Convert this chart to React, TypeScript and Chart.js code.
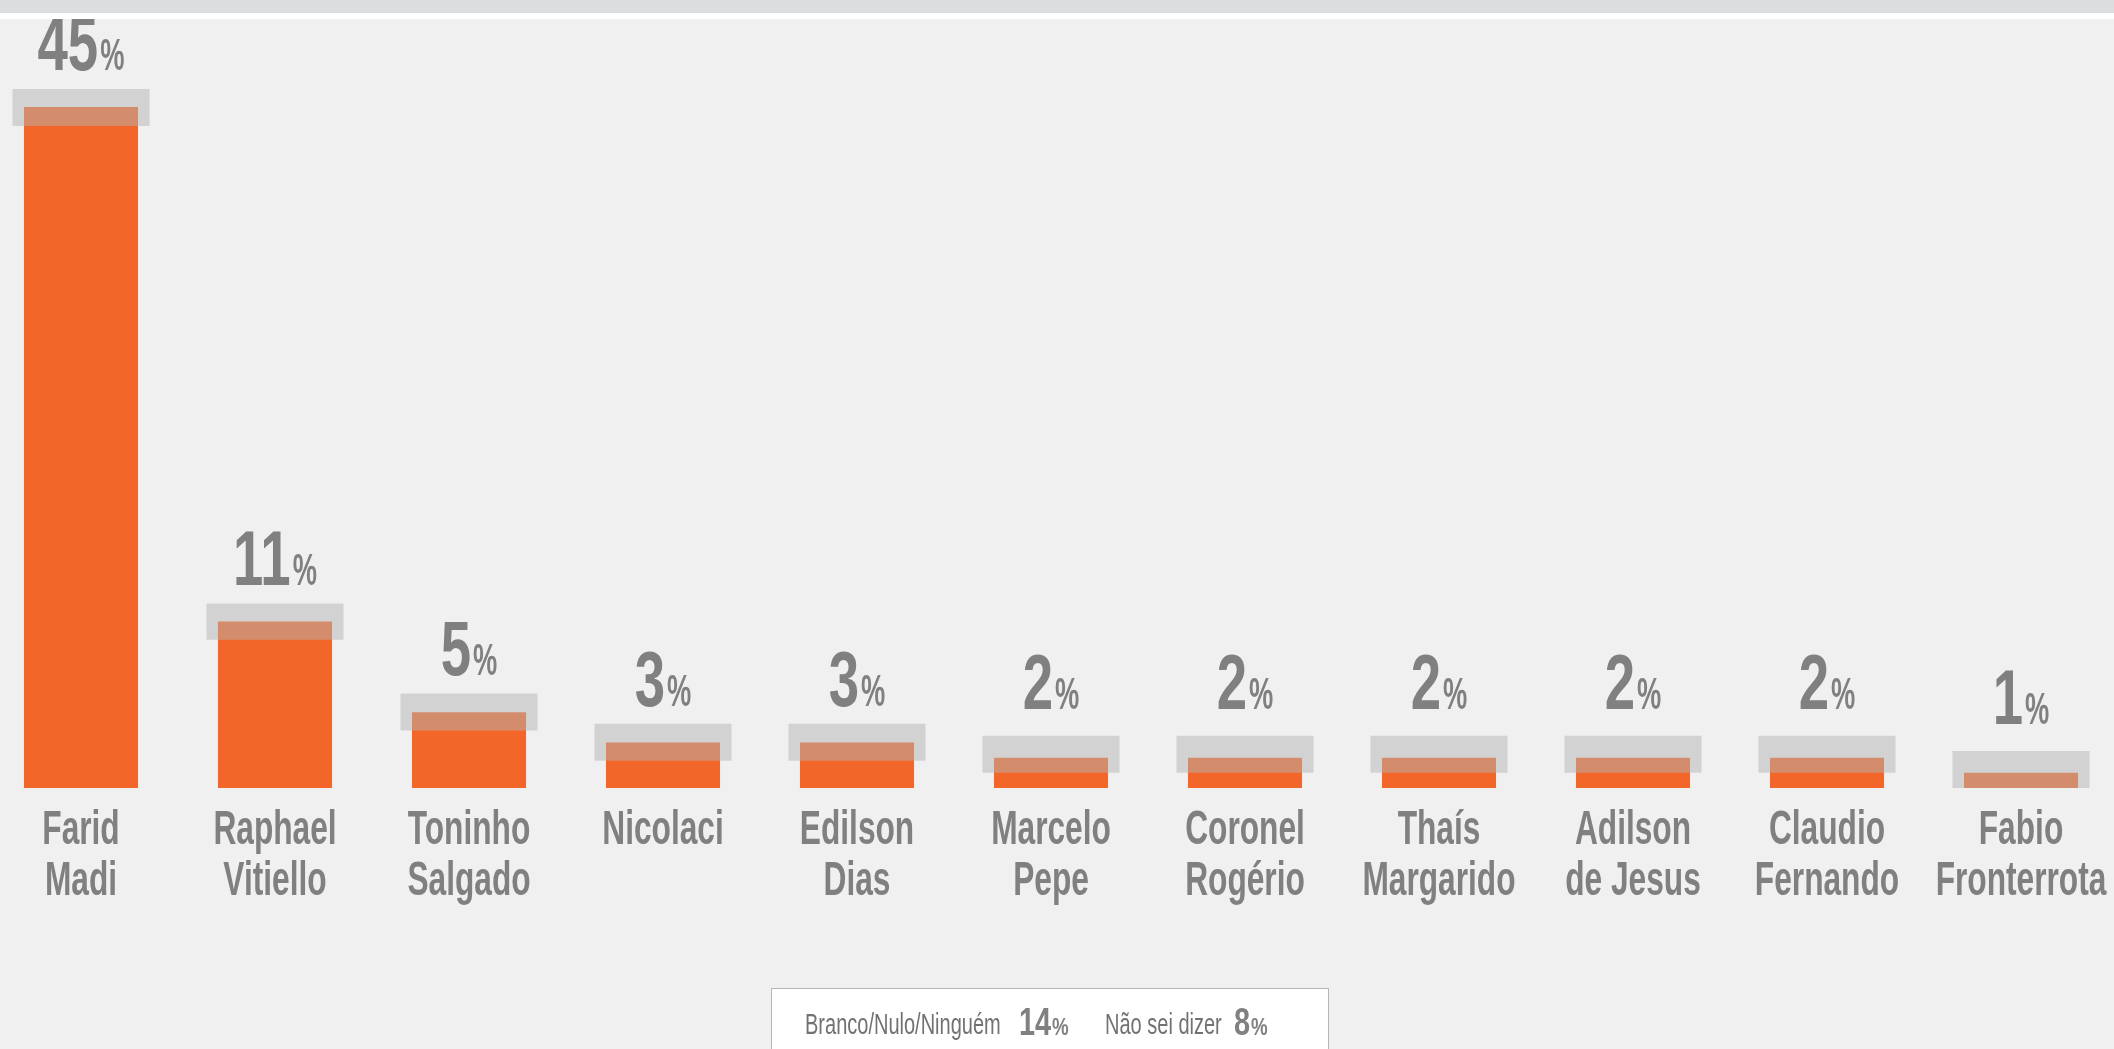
import React, { useEffect, useRef } from "react";
import { Chart, registerables } from "chart.js";

Chart.register(...registerables);

const categories: string[][] = [
  ["Farid", "Madi"],
  ["Raphael", "Vitiello"],
  ["Toninho", "Salgado"],
  ["Nicolaci"],
  ["Edilson", "Dias"],
  ["Marcelo", "Pepe"],
  ["Coronel", "Rogério"],
  ["Thaís", "Margarido"],
  ["Adilson", "de Jesus"],
  ["Claudio", "Fernando"],
  ["Fabio", "Fronterrota"],
];
const values: number[] = [45, 11, 5, 3, 3, 2, 2, 2, 2, 2, 1];
const boxLow: number[] = [43.75, 9.8, 3.8, 1.8, 1.8, 1.0, 1.0, 1.0, 1.0, 1.0, 0];
const boxHigh: number[] = [46.2, 12.2, 6.25, 4.25, 4.25, 3.45, 3.45, 3.45, 3.45, 3.45, 2.45];
const otherLabels: string[] = ["Branco/Nulo/Ninguém", "Não sei dizer"];
const otherValues: number[] = [14, 8];

const FONT = '"Liberation Sans", Arial, sans-serif';
const GRAY = "#808080";
const X_OFF = 16;
const CANVAS_W = 2134;
const CANVAS_H = 1049;

function drawScaled(
  ctx: CanvasRenderingContext2D,
  text: string,
  x: number,
  y: number,
  font: string,
  sx: number,
  align: CanvasTextAlign,
  color: string
) {
  ctx.save();
  ctx.font = font;
  ctx.fillStyle = color;
  ctx.textAlign = align;
  ctx.textBaseline = "alphabetic";
  ctx.translate(x, y);
  ctx.scale(sx, 1);
  ctx.fillText(text, 0, 0);
  ctx.restore();
}

function measureScaled(ctx: CanvasRenderingContext2D, text: string, font: string, sx: number) {
  ctx.save();
  ctx.font = font;
  const w = ctx.measureText(text).width * sx;
  ctx.restore();
  return w;
}

function drawPercent(
  ctx: CanvasRenderingContext2D,
  num: string,
  cx: number | null,
  left: number | null,
  baseline: number,
  bigFont: string,
  bigSx: number,
  smallFont: string,
  smallSx: number,
  gap: number,
  color: string
) {
  const w1 = measureScaled(ctx, num, bigFont, bigSx);
  const w2 = measureScaled(ctx, "%", smallFont, smallSx);
  const total = w1 + gap + w2;
  const x0 = left !== null ? left : (cx as number) - total / 2;
  drawScaled(ctx, num, x0, baseline, bigFont, bigSx, "left", color);
  drawScaled(ctx, "%", x0 + w1 + gap, baseline, smallFont, smallSx, "left", color);
}

const labelsPlugin = {
  id: "customLabels",
  afterDatasetsDraw(chart: any) {
    const ctx: CanvasRenderingContext2D = chart.ctx;
    const meta = chart.getDatasetMeta(1);
    const yScale = chart.scales.y;
    meta.data.forEach((bar: any, i: number) => {
      const cx = bar.x;
      const top = yScale.getPixelForValue(values[i]);
      const off = values[i] <= 2 ? 49 : 37;
      drawPercent(
        ctx,
        String(values[i]),
        cx,
        null,
        top - off,
        `bold 78px ${FONT}`,
        0.7,
        `bold 44px ${FONT}`,
        0.62,
        2,
        GRAY
      );
      const lines = categories[i];
      lines.forEach((ln, j) => {
        drawScaled(ctx, ln, cx, 844 + j * 51, `bold 48px ${FONT}`, 0.66, "center", GRAY);
      });
    });

    // bottom legend box
    ctx.save();
    ctx.fillStyle = "#ffffff";
    ctx.fillRect(771 + X_OFF, 988, 558, 80);
    ctx.strokeStyle = "#b5b5b5";
    ctx.lineWidth = 1;
    ctx.strokeRect(771.5 + X_OFF, 988.5, 557, 80);
    ctx.restore();
    const labelX = [805, 1105];
    const numX = [1019, 1234];
    otherLabels.forEach((lab, k) => {
      drawScaled(ctx, lab, labelX[k] + X_OFF, 1034, `29px ${FONT}`, 0.69, "left", "#727272");
      drawPercent(
        ctx,
        String(otherValues[k]),
        null,
        numX[k] + X_OFF,
        1035,
        `bold 38px ${FONT}`,
        0.76,
        `bold 24px ${FONT}`,
        0.78,
        1,
        GRAY
      );
    });
  },
};

export default function App() {
  const canvasRef = useRef<HTMLCanvasElement | null>(null);

  useEffect(() => {
    document.body.style.margin = "0";
    document.body.style.overflow = "hidden";
    const canvas = canvasRef.current;
    if (!canvas) return;
    const chart = new Chart(canvas, {
      type: "bar",
      data: {
        labels: categories.map((c) => c.join(" ")),
        datasets: [
          {
            label: "margem",
            data: boxLow.map((l, i) => [l, boxHigh[i]]) as any,
            backgroundColor: "rgba(180,180,180,0.49)",
            borderWidth: 0,
            barPercentage: 0.7066,
            categoryPercentage: 1,
            grouped: false,
            order: 0,
          } as any,
          {
            label: "votos",
            data: values,
            backgroundColor: "#f26729",
            borderWidth: 0,
            barPercentage: 0.588,
            categoryPercentage: 1,
            grouped: false,
            order: 1,
          } as any,
        ],
      },
      options: {
        responsive: false,
        animation: false,
        devicePixelRatio: 1,
        layout: { padding: { left: 0, right: 0, top: 0, bottom: CANVAS_H - 788 } },
        scales: {
          x: { display: false },
          y: { display: false, min: 0, max: 52.08 },
        },
        plugins: {
          legend: { display: false },
          tooltip: { enabled: false },
        },
      },
      plugins: [labelsPlugin],
    });
    return () => chart.destroy();
  }, []);

  return (
    <div
      style={{
        position: "fixed",
        left: 0,
        top: 0,
        width: 2114,
        height: 1049,
        overflow: "hidden",
        background: "#f0f0f0",
      }}
    >
      <canvas
        ref={canvasRef}
        width={CANVAS_W}
        height={CANVAS_H}
        style={{ position: "absolute", left: -X_OFF, top: 0, width: CANVAS_W, height: CANVAS_H }}
      />
      <div style={{ position: "absolute", left: 0, top: 0, width: 2114, height: 13, background: "#dcdddf" }} />
      <div style={{ position: "absolute", left: 0, top: 13, width: 2114, height: 6, background: "#ffffff" }} />
    </div>
  );
}
